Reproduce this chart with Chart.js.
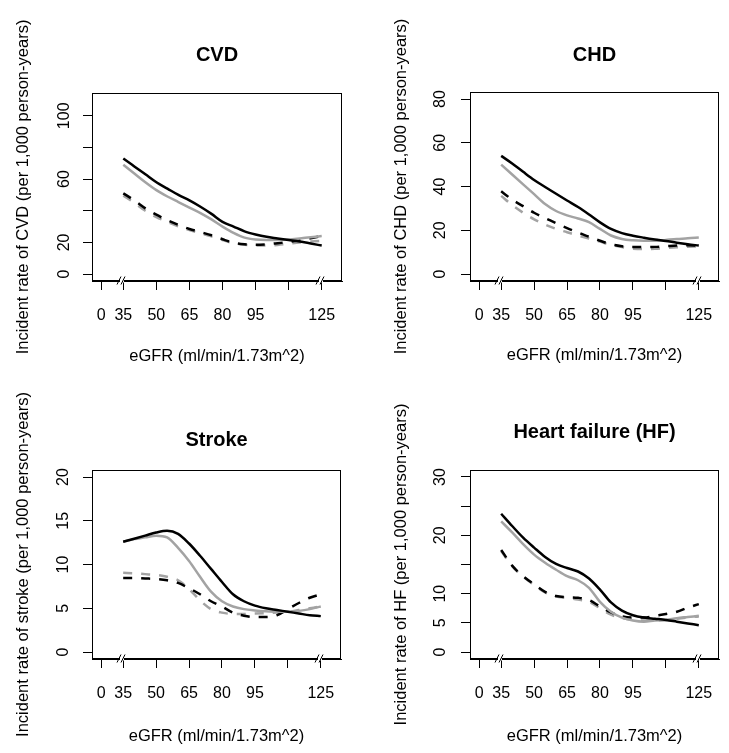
<!DOCTYPE html>
<html>
<head>
<meta charset="utf-8">
<script src="https://cdn.jsdelivr.net/npm/chart.js@4.4.1/dist/chart.umd.min.js"></script>
<style>
  html, body { margin: 0; padding: 0; background: #fff; }
  #wrap { position: relative; width: 729px; height: 753px; overflow: hidden; }
  canvas { position: absolute; }
</style>
</head>
<body>
<div id="wrap">
  <canvas id="c1" width="365" height="376" style="left:0px;top:0px"></canvas>
  <canvas id="c2" width="364" height="376" style="left:365px;top:0px"></canvas>
  <canvas id="c3" width="365" height="377" style="left:0px;top:376px"></canvas>
  <canvas id="c4" width="364" height="377" style="left:365px;top:376px"></canvas>
</div>
<script>
const egfr = [35, 40, 45, 50, 55, 60, 65, 70, 75, 80, 85, 90, 95, 100, 105, 110, 115, 120, 125];

// x axis (broken axis: "0" sits at 25)
const xTicks = [25, 35, 50, 65, 80, 95, 110, 125];
const xTickLabels = ['0', '35', '50', '65', '80', '95', '', '125'];
const xBreaks = [35, 125];

// CVD
const cvdBlack     = [73, 68, 63, 58, 54, 50, 46.5, 42.5, 38, 33, 30, 27, 25, 23.5, 22.5, 21.5, 20.5, 19.3, 18];
const cvdGray      = [69, 63.5, 58, 53, 49, 45.5, 42, 38.5, 34.5, 30, 26, 23, 21.8, 21.5, 21.5, 21.8, 22.5, 23.3, 24];
const cvdBlackDash = [51, 46.5, 41.5, 37.5, 34, 31, 28.5, 26.5, 24.5, 22, 19.8, 18.8, 18.5, 18.8, 19.5, 20.3, 21.3, 22.6, 24];
const cvdGrayDash  = [49.5, 45, 40, 36, 33, 30, 27.8, 25.8, 23.8, 21.5, 19.5, 18.5, 18, 18, 18.4, 19.2, 20, 20.5, 21];
const cvdTicks = [0, 20, 40, 60, 80, 100];
const cvdTickLabels = ['0', '20', '', '60', '', '100'];

// CHD
const chdBlack     = [54, 50.5, 46.7, 43, 39.8, 36.7, 33.6, 30.6, 27.2, 23.6, 20.6, 18.7, 17.5, 16.6, 15.8, 15.1, 14.3, 13.6, 13];
const chdGray      = [50, 45.5, 41, 36.5, 32, 28.8, 26.8, 25.4, 23.7, 20.6, 17.6, 16, 15.4, 15.2, 15.2, 15.6, 16, 16.3, 16.7];
const chdBlackDash = [37.8, 34, 31, 28, 25.5, 23.2, 21, 19, 17, 15.2, 13.6, 12.7, 12.3, 12.3, 12.4, 12.7, 13, 13.1, 13];
const chdGrayDash  = [35.7, 31.5, 28, 25, 22.6, 20.6, 19.1, 17.6, 16.2, 14.8, 13.3, 12.3, 11.6, 11.4, 11.5, 11.9, 12.2, 12.5, 12.6];
const chdTicks = [0, 20, 40, 60, 80];
const chdTickLabels = ['0', '20', '40', '60', '80'];

// Stroke
const strokeBlack     = [12.6, 12.95, 13.3, 13.65, 13.85, 13.5, 12.4, 11.0, 9.5, 8.0, 6.6, 5.8, 5.3, 5.0, 4.8, 4.6, 4.4, 4.2, 4.1];
const strokeGray      = [12.6, 12.9, 13.1, 13.3, 13.1, 11.9, 10.4, 8.6, 6.9, 5.8, 5.2, 4.9, 4.75, 4.65, 4.6, 4.6, 4.7, 4.9, 5.2];
const strokeBlackDash = [8.45, 8.45, 8.4, 8.35, 8.2, 7.9, 7.3, 6.6, 5.8, 5.2, 4.5, 4.15, 4.0, 4.0, 4.2, 4.9, 5.6, 6.2, 6.6];
const strokeGrayDash  = [9.05, 9.0, 8.9, 8.8, 8.6, 8.2, 7.2, 5.9, 4.9, 4.5, 4.35, 4.35, 4.4, 4.45, 4.5, 4.6, 4.8, 5.0, 5.2];
const strokeTicks = [0, 5, 10, 15, 20];
const strokeTickLabels = ['0', '5', '10', '15', '20'];

// Heart failure
const hfBlack     = [23.7, 21.6, 19.6, 17.9, 16.3, 15.1, 14.4, 13.8, 12.6, 10.7, 8.5, 7.1, 6.3, 5.9, 5.7, 5.5, 5.2, 4.9, 4.6];
const hfGray      = [22.4, 20.5, 18.5, 16.7, 15.3, 14.1, 13.0, 12.3, 11.0, 8.6, 6.9, 5.9, 5.4, 5.2, 5.4, 5.5, 5.8, 6.0, 6.2];
const hfBlackDash = [17.5, 14.8, 13.0, 11.6, 10.3, 9.6, 9.4, 9.3, 8.9, 7.8, 6.8, 6.1, 5.9, 5.9, 6.2, 6.5, 6.9, 7.6, 8.2];
const hfGrayDash  = [17.3, 14.7, 12.9, 11.5, 10.2, 9.5, 9.3, 9.0, 8.6, 7.5, 6.4, 5.8, 5.5, 5.4, 5.4, 5.5, 5.7, 5.9, 6.1];
const hfTicks = [0, 5, 10, 15, 20, 25, 30];
const hfTickLabels = ['0', '5', '10', '', '20', '', '30'];

const FONT = '"Liberation Sans", Arial, Helvetica, sans-serif';
Chart.defaults.font.family = FONT;
Chart.defaults.color = '#000';

const lineStyles = [
  { color: '#000000', dash: [] },
  { color: '#a3a3a3', dash: [] },
  { color: '#000000', dash: [9, 9] },
  { color: '#a3a3a3', dash: [9, 9] }
];

const panels = [
  { id: 'c1', title: 'CVD', titleY: 60.5, yTitle: 'Incident rate of CVD (per 1,000 person-years)',
    series: [cvdBlack, cvdGray, cvdBlackDash, cvdGrayDash], yMin: -4.4, yMax: 114.4,
    yTicks: cvdTicks, yLabels: cvdTickLabels,
    left: 92, right: 23, top: 93, bottom: 95, yTickPad: 5, yTitlePad: 14, xTitlePad: 9.4 },
  { id: 'c2', title: 'CHD', titleY: 60.5, yTitle: 'Incident rate of CHD (per 1,000 person-years)',
    series: [chdBlack, chdGray, chdBlackDash, chdGrayDash], yMin: -3.2, yMax: 83.2,
    yTicks: chdTicks, yLabels: chdTickLabels,
    left: 105, right: 10, top: 92, bottom: 95, yTickPad: 11.3, yTitlePad: 26.4, xTitlePad: 10.4 },
  { id: 'c3', title: 'Stroke', titleY: 70, yTitle: 'Incident rate of stroke (per 1,000 person-years)',
    series: [strokeBlack, strokeGray, strokeBlackDash, strokeGrayDash], yMin: -0.8, yMax: 20.8,
    yTicks: strokeTicks, yLabels: strokeTickLabels,
    left: 92, right: 24, top: 94, bottom: 94, yTickPad: 10.5, yTitlePad: 14, xTitlePad: 6.8 },
  { id: 'c4', title: 'Heart failure (HF)', titleY: 62, yTitle: 'Incident rate of HF (per 1,000 person-years)',
    series: [hfBlack, hfGray, hfBlackDash, hfGrayDash], yMin: -1.2, yMax: 31.2,
    yTicks: hfTicks, yLabels: hfTickLabels,
    left: 105, right: 10, top: 94, bottom: 94, yTickPad: 11.3, yTitlePad: 26.4, xTitlePad: 6.8 }
];

// box around the plot, axis breaks and the main title
const framePlugin = {
  id: 'frame',
  afterDraw(chart, args, opts) {
    const { ctx, chartArea: a } = chart;
    const x = chart.scales.x;
    ctx.save();
    ctx.strokeStyle = '#000';
    ctx.lineWidth = 1;
    const l = Math.round(a.left) + 0.5, t = Math.round(a.top) + 0.5;
    const r = Math.round(a.right) - 0.5, b = Math.round(a.bottom) - 0.5;
    ctx.strokeRect(l, t, r - l, b - t);

    xBreaks.forEach(v => {
      const px = Math.round(x.getPixelForValue(v));
      ctx.fillStyle = '#fff';
      ctx.fillRect(px - 3, b - 1, 4, 3);
      ctx.beginPath();
      ctx.moveTo(px - 6, b + 4); ctx.lineTo(px - 2, b - 4);
      ctx.moveTo(px - 2, b + 4); ctx.lineTo(px + 2, b - 4);
      ctx.stroke();
    });

    ctx.fillStyle = '#000';
    ctx.font = 'bold 20px ' + FONT;
    ctx.textAlign = 'center';
    ctx.textBaseline = 'alphabetic';
    ctx.fillText(opts.text, (a.left + a.right) / 2, opts.y);
    ctx.restore();
  }
};

panels.forEach(p => {
  const ctx = document.getElementById(p.id).getContext('2d');
  new Chart(ctx, {
    type: 'line',
    data: {
      datasets: p.series.map((vals, i) => ({
        data: egfr.map((e, k) => ({ x: e, y: vals[k] })),
        borderColor: lineStyles[i].color,
        borderDash: lineStyles[i].dash,
        borderWidth: 2.5,
        pointRadius: 0,
        fill: false,
        cubicInterpolationMode: 'monotone'
      }))
    },
    options: {
      responsive: false,
      animation: false,
      devicePixelRatio: 1,
      layout: { padding: { left: 0, top: p.top, right: p.right, bottom: 0 } },
      plugins: {
        legend: { display: false },
        tooltip: { enabled: false },
        frame: { text: p.title, y: p.titleY }
      },
      scales: {
        x: {
          type: 'linear',
          min: 20.8,
          max: 134.2,
          afterBuildTicks: s => { s.ticks = xTicks.map(v => ({ value: v })); },
          afterFit: s => { s.height = p.bottom; },
          ticks: {
            autoSkip: false,
            maxRotation: 0,
            padding: 16,
            font: { size: 16 },
            color: '#000',
            callback: (v, i) => xTickLabels[i]
          },
          grid: { drawOnChartArea: false, tickLength: 9, color: '#000' },
          border: { color: '#000' },
          title: {
            display: true,
            text: 'eGFR (ml/min/1.73m^2)',
            font: { size: 16.5 },
            color: '#000',
            padding: { top: 0, bottom: p.xTitlePad }
          }
        },
        y: {
          type: 'linear',
          min: p.yMin,
          max: p.yMax,
          afterBuildTicks: s => { s.ticks = p.yTicks.map(v => ({ value: v })); },
          afterFit: s => { s.width = p.left; },
          ticks: {
            autoSkip: false,
            minRotation: 90,
            maxRotation: 90,
            crossAlign: 'center',
            padding: p.yTickPad,
            font: { size: 16 },
            color: '#000',
            callback: (v, i) => p.yLabels[i]
          },
          grid: { drawOnChartArea: false, tickLength: 9, color: '#000' },
          border: { color: '#000' },
          title: {
            display: true,
            text: p.yTitle,
            font: { size: 16.5 },
            color: '#000',
            padding: { top: p.yTitlePad, bottom: 0 }
          }
        }
      }
    },
    plugins: [framePlugin]
  });
});
</script>
</body>
</html>
